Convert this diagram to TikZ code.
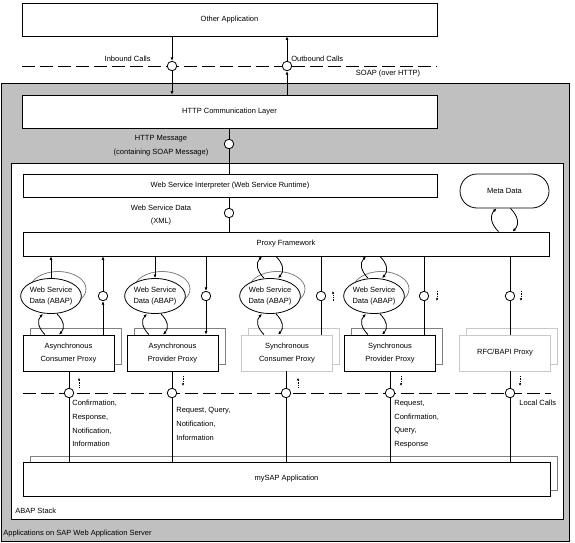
\documentclass[tikz,border=0pt]{standalone}
\usepackage{fontspec}
\setmainfont{Liberation Sans}
\usetikzlibrary{shapes.geometric,arrows.meta}

\definecolor{panelgray}{RGB}{192,192,192}
\definecolor{shadowgray}{RGB}{128,128,128}
\definecolor{palegray}{RGB}{200,200,200}

\begin{document}
\begin{tikzpicture}[
	x=1pt, y=-1pt,
	line width=0.8pt,
	font=\fontsize{7.5}{13.7}\selectfont,
	every node/.style={inner sep=0pt},
	tier/.style={draw,fill=white,minimum height=33pt},
	proxybox/.style={draw,fill=white,minimum width=91pt,minimum height=36pt,align=center},
	shadowbox/.style={draw=#1,fill=white,minimum width=91pt,minimum height=36pt},
	wsdata/.style={ellipse,draw,fill=white,minimum width=56pt,minimum height=35pt,
		align=center,font=\fontsize{7.5}{10.7}\selectfont},
	wsshadow/.style={ellipse,draw=shadowgray,minimum width=56pt,minimum height=35pt},
	iface/.style={circle,draw,fill=white,minimum size=9.5pt},
	flow/.style={-{Latex[length=3.5pt,width=3pt]}},
	upbend/.style={flow,out=135,in=-135,looseness=1.15},
	downbend/.style={flow,out=-45,in=45,looseness=1.15},
	hint/.style={densely dotted,-{Latex[length=2.5pt,width=2.5pt]}},
	callline/.style={dash pattern=on 13pt off 5pt},
	notes/.style={align=left,anchor=north west}
]

\useasboundingbox (0,0) rectangle (575,542);

\draw[fill=panelgray] (1,83) rectangle (569,541);
\draw[fill=white] (11,163) rectangle (563,519);

\draw[callline] (22,66) -- (437,66);
\draw[callline] (23,393) -- (551,393);

\node[tier,minimum width=415pt] (other) at (229.5,19.5) {Other Application};
\node[tier,minimum width=415pt] (http) at (229.5,111.5) {HTTP Communication Layer};
\node[draw,fill=white,minimum width=414pt,minimum height=23pt] (wsi) at (230,185.5) {Web Service Interpreter (Web Service Runtime)};
\node[draw,fill=white,rounded corners=17pt,minimum width=89pt,minimum height=34pt] (meta) at (504.5,191) {Meta Data};
\node[draw,fill=white,minimum width=526pt,minimum height=24pt] (pf) at (286,244) {Proxy Framework};

\node[anchor=east] (inbound) at (151,59) {Inbound Calls};
\node[anchor=west] (outbound) at (291,59) {Outbound Calls};
\node (soap) at (388,74) {SOAP (over HTTP)};
\node[align=center] (httpmsg) at (161,145.5) {HTTP Message\\(containing SOAP Message)};
\node[align=center] (xmldata) at (161,215) {Web Service Data\\(XML)};

\foreach \n/\x/\col/\sh/\txt in {
	1/68.5/black/shadowgray/{Asynchronous\\Consumer Proxy},
	2/172.5/black/shadowgray/{Asynchronous\\Provider Proxy},
	3/287/palegray/palegray/{Synchronous\\Consumer Proxy},
	4/390/black/shadowgray/{Synchronous\\Provider Proxy},
	5/505/palegray/palegray/{RFC/BAPI Proxy}}
{
	\node[shadowbox=\sh] (shadow\n) at (\x+7,346) {};
	\node[proxybox,draw=\col] (prx\n) at (\x,353) {\txt};
}

\foreach \n/\x in {1/51,2/155,3/270,4/374}
{
	\node[wsshadow] (wsshadow\n) at (\x+7,289) {};
	\node[wsdata] (wsd\n) at (\x,296) {Web Service\\Data (ABAP)};
}

\node[draw=shadowgray,fill=white,minimum width=527pt,minimum height=34pt] (sapshadow) at (293.5,473) {};
\node[draw,fill=white,minimum width=527pt,minimum height=34pt] (sap) at (286.5,479) {mySAP Application};

\node[notes] (msg1) at (72,400) {Confirmation,\\Response,\\Notification,\\Information};
\node[notes] (msg2) at (176,407) {Request, Query,\\Notification,\\Information};
\node[notes] (msg4) at (394,400) {Request,\\Confirmation,\\Query,\\Response};
\node[notes] (local) at (519,400) {Local Calls};
\node[anchor=west] (abap) at (15,511) {ABAP Stack};
\node[anchor=west] (was) at (3,534) {Applications on SAP Web Application Server};

\node[iface] (cin) at (172,66) {};
\node[iface] (cout) at (287,66) {};
\node[iface] (chttp) at (229,144) {};
\node[iface] (cwsd) at (229,213) {};
\foreach \n/\x in {1/103,2/206,3/321,4/424,5/510}
	\node[iface] (cp\n) at (\x,296) {};
\foreach \n/\x in {1/69,2/172,3/286,4/390,5/510}
	\node[iface] (cl\n) at (\x,393) {};

\draw[flow] (other.south -| cin) -- (cin);
\draw[flow] (cin) -- (cin |- http.north);
\draw[flow] (http.north -| cout) -- (cout);
\draw[flow] (cout) -- (cout |- other.south);
\draw (http.south -| chttp) -- (chttp) -- (chttp |- wsi.north);
\draw (wsi.south -| cwsd) -- (cwsd) -- (cwsd |- pf.north);

\draw[flow] (wsd1.north) -- (wsd1.north |- pf.south);
\draw[flow] (wsd2.north |- pf.south) -- (wsd2.north);
\draw[flow] (prx1.north -| cp1) -- (cp1);
\draw[flow] (cp1) -- (cp1 |- pf.south);
\draw[flow] (pf.south -| cp2) -- (cp2);
\draw[flow] (cp2) -- (cp2 |- prx2.north);
\foreach \n in {3,4,5}
	\draw (pf.south -| cp\n) -- (cp\n) -- (cp\n |- prx\n.north);
\foreach \n in {1,...,5}
	\draw (prx\n.south -| cl\n) -- (cl\n) -- (cl\n |- sap.north);

\foreach \n in {1,...,4}
{
	\coordinate (bot\n) at (wsd\n.south |- prx\n.north);
	\draw[upbend] ([xshift=-6pt]bot\n) to ([xshift=-8pt]wsd\n.south);
	\draw[downbend] ([xshift=6pt]wsd\n.south) to ([xshift=8pt]bot\n);
}
\foreach \n in {3,4}
{
	\coordinate (ftop\n) at (wsd\n.north |- pf.south);
	\draw[upbend] ([xshift=-6pt]wsd\n.north) to ([xshift=-8pt]ftop\n);
	\draw[downbend] ([xshift=6pt]ftop\n) to ([xshift=8pt]wsd\n.north);
}
\coordinate (mbot) at (meta.south |- pf.north);
\draw[upbend] ([xshift=-6pt]mbot) to ([xshift=-8pt]meta.south);
\draw[downbend] ([xshift=6pt]meta.south) to ([xshift=8pt]mbot);

\draw[hint] ([xshift=12pt]cp3.south) -- ++(0,-10);
\draw[hint] ([xshift=13pt]cp4.north) -- ++(0,10);
\draw[hint] ([xshift=11pt]cp5.north) -- ++(0,10);
\draw[hint] ([xshift=10pt]cl1.north) -- ++(0,-10);
\draw[hint] ([xshift=11pt]cl2.north) ++(0,-12) -- ++(0,10);
\draw[hint] ([xshift=12pt]cl3.north) -- ++(0,-10);
\draw[hint] ([xshift=11pt]cl4.north) ++(0,-12) -- ++(0,10);
\draw[hint] ([xshift=10pt]cl5.north) ++(0,-12) -- ++(0,10);

\end{tikzpicture}
\end{document}
